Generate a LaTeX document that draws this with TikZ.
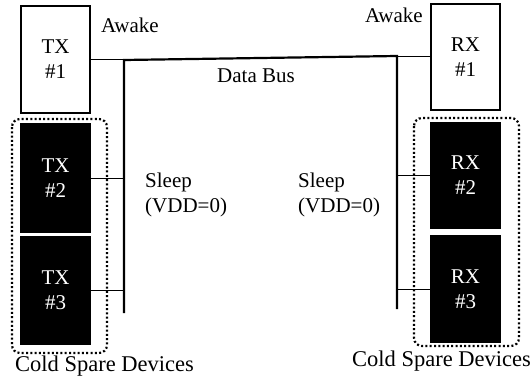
\documentclass[tikz,border=0pt]{standalone}
\usepackage{fontspec}
\setmainfont{Liberation Serif}
\begin{document}
\begin{tikzpicture}[x=1pt,y=-1pt,
  lbl/.style={font=\fontsize{21}{25}\selectfont, inner sep=0pt},
  devbox/.style={draw=black, line width=1.4pt, minimum width=69pt, inner sep=0pt,
    align=center, font=\fontsize{21}{25}\selectfont},
  spare/.style={devbox, fill=black, text=white},
  bus/.style={line width=2.2pt},
  tap/.style={line width=1pt},
  group/.style={line width=2.2pt, dash pattern=on 2pt off 2.3pt, rounded corners=8pt}]
\useasboundingbox (0,0) rectangle (532,377);

% transmitters
\node[devbox, minimum height=107pt] (tx1) at (55.5,59.5) {TX\\\#1};
\node[spare, minimum height=108pt] (tx2) at (55.5,178) {TX\\\#2};
\node[spare, minimum height=107pt] (tx3) at (55.5,290.5) {TX\\\#3};

% receivers
\node[devbox, minimum height=106pt] (rx1) at (465.5,57) {RX\\\#1};
\node[spare, minimum height=105pt] (rx2) at (465.5,175.5) {RX\\\#2};
\node[spare, minimum height=106pt] (rx3) at (465.5,289) {RX\\\#3};

% cold spare groups
\draw[group] (12,119) rectangle (107,353);
\draw[group] (414,118) rectangle (519,346);

% data bus
\coordinate (lt) at (124,60);
\coordinate (lb) at (124,313);
\coordinate (rt) at (397,56);
\coordinate (rb) at (397,309);
\draw[bus] (lb) -- (lt) -- (rt) -- (rb);

% taps onto the bus
\draw[tap] (tx1.east) -- (tx1.east -| lt);
\draw[tap] (tx2.east) -- (tx2.east -| lt);
\draw[tap] (tx3.east) -- (tx3.east -| lt);
\draw[tap] (rx1.west) -- (rx1.west -| rt);
\draw[tap] (rx2.west) -- (rx2.west -| rt);
\draw[tap] (rx3.west) -- (rx3.west -| rt);

% labels
\node[lbl, anchor=base west] (awl) at (101,33) {Awake};
\node[lbl, anchor=base west] (awr) at (365,23) {Awake};
\node[lbl, anchor=base west] (bus) at (217,83) {Data Bus};
\node[lbl, anchor=base west, align=left] (sl) at (145,212) {Sleep\\(VDD=0)};
\node[lbl, anchor=base west, align=left] (sr) at (298,212) {Sleep\\(VDD=0)};
\node[lbl, anchor=base west, font=\fontsize{22.5}{25}\selectfont] (csl) at (15,371) {Cold Spare Devices};
\node[lbl, anchor=base west, font=\fontsize{22.5}{25}\selectfont] (csr) at (352,366) {Cold Spare Devices};
\end{tikzpicture}
\end{document}
